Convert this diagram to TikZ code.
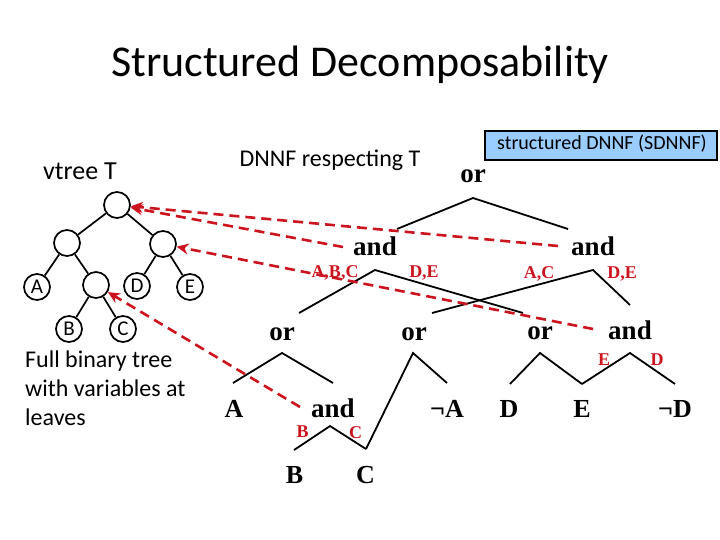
\documentclass[tikz,border=0pt]{standalone}
\usepackage{fontspec}
\setmainfont{Carlito}
\newfontfamily\tnr{Liberation Serif}
\usetikzlibrary{arrows.meta}
\definecolor{dred}{RGB}{204,20,30}
\definecolor{boxblue}{RGB}{153,204,255}
\begin{document}
\begin{tikzpicture}[x=1pt,y=-1pt,
  gate/.style={font=\tnr\bfseries\fontsize{27}{30}\selectfont, inner sep=0pt, anchor=base},
  var/.style={font=\tnr\bfseries\fontsize{26}{30}\selectfont, inner sep=0pt, anchor=base},
  lab/.style={font=\tnr\bfseries\fontsize{18}{20}\selectfont, text=dred, inner sep=0pt, anchor=base},
  txt/.style={inner sep=0pt, anchor=base},
  ntxt/.style={inner sep=0pt, anchor=base west, font=\fontsize{24}{29}\selectfont},
  edge/.style={line width=1.8pt, line join=miter},
  vt/.style={circle, draw, line width=1.7pt, minimum size=26pt, inner sep=0pt, font=\fontsize{21}{22}\selectfont},
  vedge/.style={line width=1.7pt},
  map/.style={dred, line width=2.6pt, dash pattern=on 10pt off 6pt, -{Stealth[length=12pt,width=11pt]}}]
\useasboundingbox (0,0) rectangle (720,540);

% titles and texts
\node[txt, font=\fontsize{44}{50}\selectfont] (title) at (360,77) {Structured Decomposability};
\node[txt, font=\fontsize{26}{30}\selectfont] (vtitle) at (80,180) {vtree T};
\node[txt, font=\fontsize{24}{29}\selectfont] (dtitle) at (330,167) {DNNF respecting T};
\node[draw, line width=1.6pt, fill=boxblue, minimum width=232pt, minimum height=29pt, inner sep=0pt] (sbox) at (601,145.5) {};
\node[txt, font=\fontsize{20}{24}\selectfont] (stitle) at (602,150) {structured DNNF (SDNNF)};
\node[ntxt] (note1) at (25,367) {Full binary tree};
\node[ntxt] (note2) at (25,396) {with variables at};
\node[ntxt] (note3) at (25,425) {leaves};

% vtree
\node[vt] (r) at (117,205) {};
\node[vt] (l) at (67,243) {};
\node[vt] (rr) at (163,244) {};
\node[vt] (a) at (37,287) {A};
\node[vt] (in) at (96,285) {};
\node[vt] (d) at (137,286) {D};
\node[vt] (e) at (190,287) {E};
\node[vt] (b) at (69,329) {B};
\node[vt] (c) at (123,329) {C};
\draw[vedge] (r) -- (l);
\draw[vedge] (r) -- (rr);
\draw[vedge] (l) -- (a);
\draw[vedge] (l) -- (in);
\draw[vedge] (rr) -- (d);
\draw[vedge] (rr) -- (e);
\draw[vedge] (in) -- (b);
\draw[vedge] (in) -- (c);

% DNNF gates
\node[gate] (or0) at (473,183) {or};
\node[gate] (andL) at (375,255) {and};
\node[gate] (andR) at (593,255) {and};
\node[gate] (or1) at (282,340) {or};
\node[gate] (or2) at (414,340) {or};
\node[gate] (or3) at (540,339) {or};
\node[gate] (and3) at (630,339) {and};
\node[gate] (and2) at (333,417) {and};
\node[var] (vA) at (234,417) {A};
\node[var] (vnA) at (447,417) {\textlnot A};
\node[var] (vB) at (294.5,483) {B};
\node[var] (vC) at (365.5,483) {C};
\node[var] (vD) at (509,417) {D};
\node[var] (vE) at (582,417) {E};
\node[var] (vnD) at (675,417) {\textlnot D};

% labels
\node[lab] (l1) at (335,277) {A,B,C};
\node[lab] (l2) at (424,277) {D,E};
\node[lab] (l3) at (539,278) {A,C};
\node[lab] (l4) at (622,278) {D,E};
\node[lab] (l5) at (302.5,437) {B};
\node[lab] (l6) at (355.5,438) {C};
\node[lab] (l7) at (604,365) {E};
\node[lab] (l8) at (657,365) {D};

% edge coordinates
\coordinate (o0a) at (473,198);
\coordinate (o0l) at (397,229);
\coordinate (o0r) at (568,229);
\coordinate (aLa) at (375,270);
\coordinate (aLl) at (299,313);
\coordinate (aLr) at (523,313);
\coordinate (aRa) at (593,270);
\coordinate (aRl) at (432,313);
\coordinate (aRr) at (630,305);
\coordinate (o1a) at (282,353);
\coordinate (o1l) at (233,383);
\coordinate (o1r) at (333,383);
\coordinate (a2a) at (330,426);
\coordinate (a2l) at (294,450);
\coordinate (cpt) at (366,449);
\coordinate (o2a) at (413,353);
\coordinate (o2r) at (447,383);
\coordinate (o3a) at (540,353);
\coordinate (o3l) at (510,384);
\coordinate (ept) at (582,384);
\coordinate (a3a) at (630,353);
\coordinate (a3r) at (675,384);

\draw[edge] (o0l) -- (o0a) -- (o0r);
\draw[edge] (aLl) -- (aLa) -- (aLr);
\draw[edge] (aRl) -- (aRa) -- (aRr);
\draw[edge] (o1l) -- (o1a) -- (o1r);
\draw[edge] (a2l) -- (a2a) -- (cpt);
\draw[edge] (cpt) -- (o2a) -- (o2r);
\draw[edge] (o3l) -- (o3a) -- (ept);
\draw[edge] (ept) -- (a3a) -- (a3r);

% mapping arrows
\coordinate (t1) at (558,246);
\coordinate (t2) at (343,247);
\coordinate (t3) at (593,329);
\coordinate (t4) at (300,407);
\draw[map] (t1) -- (r);
\draw[map] (t2) -- (r);
\draw[map] (t3) -- (rr);
\draw[map] (t4) -- (in);
\end{tikzpicture}
\end{document}
